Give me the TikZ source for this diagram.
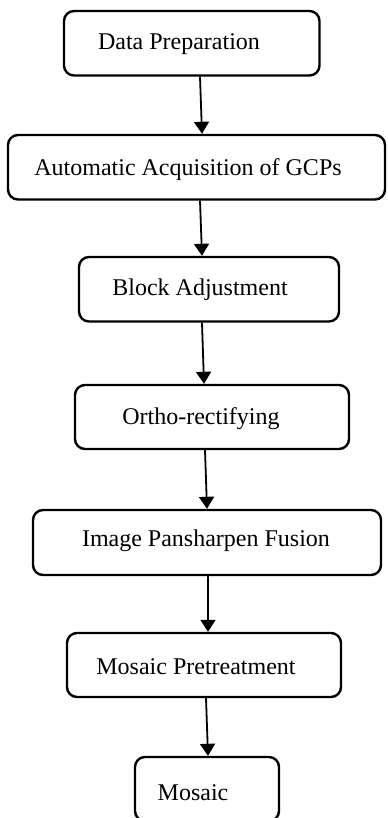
\documentclass[tikz,border=0pt]{standalone}
\usepackage{fontspec}
\setmainfont{Liberation Serif}
\usetikzlibrary{arrows.meta}
\begin{document}
\begin{tikzpicture}[x=0.5pt,y=-0.5pt,
  stepbox/.style={draw, rounded corners=5pt, line width=1.2pt, inner sep=0pt},
  lbl/.style={anchor=base, inner sep=0pt, font=\fontsize{12pt}{14pt}\selectfont},
  arr/.style={line width=0.9pt, -{Triangle[width=7.5pt,length=6pt]}}]
\useasboundingbox (0,0) rectangle (387,818);
\node[stepbox, minimum width=127.75pt, minimum height=32.25pt] (b1) at (191.75,43.25) {};
\node[stepbox, minimum width=188.5pt, minimum height=32.25pt] (b2) at (196.5,167.25) {};
\node[stepbox, minimum width=130pt, minimum height=32.25pt] (b3) at (209,289.25) {};
\node[stepbox, minimum width=137pt, minimum height=32pt] (b4) at (212,417) {};
\node[stepbox, minimum width=174pt, minimum height=32.5pt] (b5) at (207,542.5) {};
\node[stepbox, minimum width=137pt, minimum height=32pt] (b6) at (204,665) {};
\node[stepbox, minimum width=72pt, minimum height=32pt] (b7) at (207,789) {};
\node[lbl] (t1) at (179,50) {Data Preparation};
\node[lbl] (t2) at (188,176) {Automatic Acquisition of GCPs};
\node[lbl] (t3) at (200,295) {Block Adjustment};
\node[lbl] (t4) at (201,424) {Ortho-rectifying};
\node[lbl] (t5) at (206,546) {Image Pansharpen Fusion};
\node[lbl] (t6) at (196,674) {Mosaic Pretreatment};
\node[lbl] (t7) at (193,800) {Mosaic};
\draw[arr] ([xshift=4.125pt]b1.south) -- ([xshift=2.75pt]b2.north);
\draw[arr] ([xshift=1.75pt]b2.south) -- ([xshift=-3.5pt]b3.north);
\draw[arr] ([xshift=-3.5pt]b3.south) -- ([xshift=-4pt]b4.north);
\draw[arr] ([xshift=-3.5pt]b4.south) -- ([xshift=0pt]b5.north);
\draw[arr] ([xshift=0.5pt]b5.south) -- ([xshift=2pt]b6.north);
\draw[arr] ([xshift=1pt]b6.south) -- ([xshift=0.5pt]b7.north);
\end{tikzpicture}
\end{document}
